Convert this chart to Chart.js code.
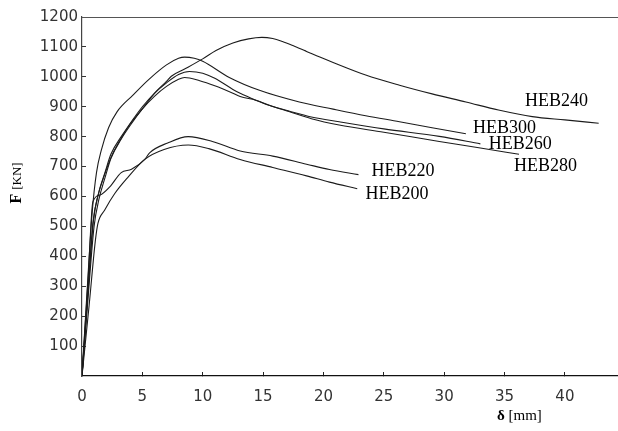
<!DOCTYPE html>
<html>
<head>
<meta charset="utf-8">
<title>F - delta curves HEB</title>
<script src="https://cdn.jsdelivr.net/npm/chart.js@4/dist/chart.umd.min.js"></script>
<style>
  html, body { margin: 0; padding: 0; background: #fff; }
  #chart { display: block; }
</style>
</head>
<body>
<canvas id="chart" width="618" height="431"></canvas>
<script>
// Force-displacement curves, [delta (mm), F (kN)]
const heb240 = [[0,0],[0.5,290],[0.9,510],[1.3,600],[1.8,665],[2.4,730],[3.25,795],[4,843],[5,893],[6,945],[7,985],[7.4,1002],[8.5,1026],[10,1060],[11.1,1088],[12.5,1113],[13.8,1127],[14.9,1132],[15.8,1128],[16.6,1118],[17.6,1102],[18.6,1085],[19.7,1066],[20.8,1048],[23.5,1006],[26.3,972],[29,943],[31.8,916],[34.5,889],[37.3,867],[40,856],[42.8,845]];
const heb300 = [[0,0],[0.4,270],[0.85,550],[1.2,680],[1.6,755],[2.2,830],[2.9,883],[4.2,938],[5.5,990],[7,1040],[8,1062],[8.5,1066],[9.3,1062],[10,1052],[12.2,998],[14.7,955],[18,916],[20.8,892],[23.5,870],[26.3,850],[29,830],[31.8,810]];
const heb260 = [[0,0],[0.5,280],[0.95,520],[1.4,615],[1.9,680],[2.4,742],[3.25,800],[4,845],[5,900],[6,945],[7,980],[8,1008],[8.9,1018],[10,1012],[11,995],[12.5,958],[13.1,945],[14.4,922],[15.5,905],[17.2,885],[19,866],[21.3,850],[25,826],[29.6,801],[33,776]];
const heb280 = [[0,0],[0.5,260],[1,500],[1.4,590],[1.9,662],[2.4,728],[3.25,792],[4,838],[5,893],[6,935],[7,968],[8,992],[8.5,998],[9.75,987],[11,970],[12.5,945],[13.1,934],[14.4,922],[15.5,905],[17.2,883],[19,860],[21.3,839],[25,815],[29.6,784],[33,762],[36.2,741]];
const heb220 = [[0,0],[0.5,320],[0.9,582],[1.5,605],[2.3,632],[3.25,680],[4.1,691],[5.2,724],[5.6,746],[7.1,779],[8.8,800],[10.8,784],[13.1,752],[15.8,735],[18.6,708],[20.5,690],[22.9,673]];
const heb200 = [[0,0],[0.6,240],[1.1,450],[1.32,510],[1.87,554],[2.7,609],[3.8,664],[5.2,724],[6.8,757],[8.8,772],[10.5,760],[13.1,724],[15.8,697],[18.6,669],[20.5,648],[22.8,626]];

const seriesNames = ['HEB240', 'HEB300', 'HEB260', 'HEB280', 'HEB220', 'HEB200'];
const seriesData = [heb240, heb300, heb260, heb280, heb220, heb200];

// where each curve name is written, in axis units
const labelX = [39.3, 35.0, 36.3, 38.4, 26.6, 26.1];
const labelY = [919, 827, 776, 702, 684, 606];

const xTicksMax = 40;

const datasets = seriesData.map((pts, i) => ({
    label: seriesNames[i],
    data: pts.map(p => ({x: p[0], y: p[1]})),
    showLine: true,
    borderColor: '#1c1c1c',
    borderWidth: 1.1,
    pointRadius: 0,
    cubicInterpolationMode: 'monotone',
    fill: false
}));

// top frame line, curve names and axis titles
const decorations = {
    id: 'decorations',
    afterDraw(chart) {
        const ctx = chart.ctx;
        const area = chart.chartArea;
        const xs = chart.scales.x;
        const ys = chart.scales.y;

        ctx.save();
        ctx.strokeStyle = '#555';
        ctx.lineWidth = 1.2;
        ctx.beginPath();
        ctx.moveTo(area.left, area.top + 0.5);
        ctx.lineTo(area.right, area.top + 0.5);
        ctx.stroke();

        ctx.fillStyle = '#000';
        ctx.font = '18px "Liberation Serif"';
        ctx.textAlign = 'center';
        ctx.textBaseline = 'middle';
        seriesNames.forEach((name, i) => {
            ctx.fillText(name, xs.getPixelForValue(labelX[i]), ys.getPixelForValue(labelY[i]));
        });

        // y title: bold F + [KN], rotated
        ctx.save();
        ctx.translate(21, 183);
        ctx.rotate(-Math.PI / 2);
        ctx.textAlign = 'left';
        ctx.textBaseline = 'alphabetic';
        ctx.font = 'bold 16px "Liberation Serif"';
        const wF = ctx.measureText('F ').width;
        ctx.font = '13px "Liberation Serif"';
        const wK = ctx.measureText('[KN]').width;
        let start = -(wF + wK) / 2;
        ctx.font = 'bold 16px "Liberation Serif"';
        ctx.fillText('F', start, 0);
        ctx.font = '13px "Liberation Serif"';
        ctx.fillText('[KN]', start + wF, 0);
        ctx.restore();

        // x title: bold delta + [mm]
        ctx.textAlign = 'left';
        ctx.textBaseline = 'alphabetic';
        ctx.font = 'bold 15px "Liberation Serif"';
        ctx.fillText('δ', 497, 420);
        const wD = ctx.measureText('δ ').width;
        ctx.font = '15px "Liberation Serif"';
        ctx.fillText('[mm]', 497 + wD, 420);
        ctx.restore();
    }
};

const ctx = document.getElementById('chart').getContext('2d');
const chart = new Chart(ctx, {
    type: 'scatter',
    data: { datasets: datasets },
    options: {
        responsive: false,
        animation: false,
        layout: { padding: { top: 14, right: 0, left: 0, bottom: 0 } },
        plugins: {
            legend: { display: false },
            tooltip: { enabled: false }
        },
        scales: {
            x: {
                type: 'linear',
                min: 0,
                max: 44.4,
                afterBuildTicks: (scale) => {
                    scale.ticks = scale.ticks.filter(t => t.value <= xTicksMax && t.value % 5 === 0);
                },
                afterFit: (scale) => { scale.height = 55; },
                ticks: {
                    stepSize: 5,
                    padding: 16,
                    color: '#333',
                    font: { family: '"DejaVu Sans"', size: 15 },
                    callback: (v) => String(v)
                },
                grid: {
                    drawOnChartArea: false,
                    drawTicks: true,
                    tickLength: -4,
                    color: '#222'
                },
                border: { color: '#111', width: 1.3 }
            },
            y: {
                min: 0,
                max: 1200,
                afterBuildTicks: (scale) => {
                    scale.ticks = scale.ticks.filter(t => t.value > 0);
                },
                afterFit: (scale) => { scale.width = 82; },
                ticks: {
                    stepSize: 100,
                    padding: 8,
                    color: '#333',
                    font: { family: '"DejaVu Sans"', size: 15 },
                    callback: (v) => String(v)
                },
                grid: {
                    drawOnChartArea: false,
                    drawTicks: true,
                    tickLength: -4,
                    color: '#333'
                },
                border: { color: '#444', width: 1.2 }
            }
        }
    },
    plugins: [decorations]
});
</script>
</body>
</html>
